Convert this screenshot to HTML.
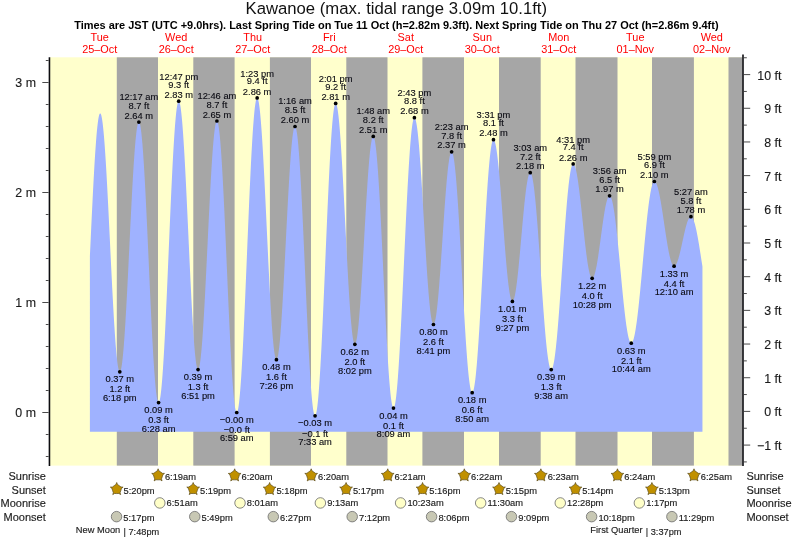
<!DOCTYPE html>
<html><head><meta charset="utf-8"><title>Kawanoe tide times</title>
<style>html,body{margin:0;padding:0;background:#fff;}body{width:793px;height:539px;overflow:hidden;}svg{display:block;font-family:"Liberation Sans", sans-serif;will-change:transform;}text{font-family:"Liberation Sans", sans-serif;}</style>
</head><body>
<svg width="793" height="539" viewBox="0 0 793 539">
<rect width="793" height="539" fill="#ffffff"/>
<rect x="50.00" y="57.30" width="692.00" height="408.30" fill="#ffffcc"/>
<rect x="116.80" y="57.30" width="41.20" height="408.30" fill="#a6a6a6"/>
<rect x="193.30" y="57.30" width="41.30" height="408.30" fill="#a6a6a6"/>
<rect x="269.90" y="57.30" width="41.10" height="408.30" fill="#a6a6a6"/>
<rect x="346.30" y="57.30" width="41.20" height="408.30" fill="#a6a6a6"/>
<rect x="422.40" y="57.30" width="41.60" height="408.30" fill="#a6a6a6"/>
<rect x="499.00" y="57.30" width="41.70" height="408.30" fill="#a6a6a6"/>
<rect x="575.50" y="57.30" width="42.00" height="408.30" fill="#a6a6a6"/>
<rect x="652.00" y="57.30" width="41.90" height="408.30" fill="#a6a6a6"/>
<rect x="728.50" y="57.30" width="14.00" height="408.30" fill="#a6a6a6"/>
<path d="M89.90 431.70 L89.90 256.04 L90.34 246.67 L90.78 237.31 L91.21 228.01 L91.65 218.81 L92.09 209.76 L92.53 200.89 L92.96 192.25 L93.40 183.88 L93.84 175.82 L94.28 168.11 L94.71 160.79 L95.15 153.89 L95.59 147.44 L96.03 141.47 L96.46 136.02 L96.90 131.10 L97.34 126.75 L97.78 122.98 L98.21 119.81 L98.65 117.25 L99.09 115.32 L99.53 114.03 L99.96 113.38 L100.40 113.38 L100.84 114.01 L101.28 115.27 L101.71 117.16 L102.15 119.67 L102.59 122.77 L103.03 126.47 L103.46 130.74 L103.90 135.55 L104.34 140.90 L104.78 146.74 L105.21 153.05 L105.65 159.80 L106.09 166.96 L106.53 174.49 L106.96 182.35 L107.40 190.52 L107.84 198.93 L108.28 207.56 L108.71 216.36 L109.15 225.29 L109.59 234.31 L110.03 243.36 L110.46 252.42 L110.90 261.42 L111.34 270.33 L111.78 279.11 L112.21 287.70 L112.65 296.07 L113.09 304.18 L113.53 311.99 L113.96 319.46 L114.40 326.54 L114.84 333.22 L115.28 339.45 L115.71 345.20 L116.15 350.45 L116.59 355.17 L117.03 359.34 L117.46 362.93 L117.90 365.93 L118.34 368.32 L118.78 370.10 L119.21 371.25 L119.65 371.77 L120.09 371.65 L120.53 370.88 L120.97 369.47 L121.40 367.42 L121.84 364.75 L122.28 361.47 L122.72 357.59 L123.15 353.14 L123.59 348.14 L124.03 342.61 L124.47 336.59 L124.90 330.10 L125.34 323.17 L125.78 315.86 L126.22 308.18 L126.65 300.19 L127.09 291.92 L127.53 283.42 L127.97 274.73 L128.40 265.89 L128.84 256.96 L129.28 247.97 L129.72 238.98 L130.15 230.03 L130.59 221.17 L131.03 212.44 L131.47 203.89 L131.90 195.56 L132.34 187.50 L132.78 179.75 L133.22 172.35 L133.65 165.34 L134.09 158.75 L134.53 152.61 L134.97 146.97 L135.40 141.85 L135.84 137.27 L136.28 133.26 L136.72 129.84 L137.15 127.03 L137.59 124.84 L138.03 123.28 L138.47 122.37 L138.90 122.10 L139.34 122.50 L139.78 123.58 L140.22 125.34 L140.65 127.76 L141.09 130.84 L141.53 134.55 L141.97 138.89 L142.40 143.82 L142.84 149.33 L143.28 155.40 L143.72 161.98 L144.15 169.05 L144.59 176.57 L145.03 184.51 L145.47 192.82 L145.90 201.48 L146.34 210.43 L146.78 219.64 L147.22 229.05 L147.65 238.62 L148.09 248.31 L148.53 258.07 L148.97 267.84 L149.40 277.59 L149.84 287.27 L150.28 296.83 L150.72 306.21 L151.16 315.39 L151.59 324.31 L152.03 332.92 L152.47 341.20 L152.91 349.09 L153.34 356.55 L153.78 363.56 L154.22 370.08 L154.66 376.08 L155.09 381.52 L155.53 386.38 L155.97 390.64 L156.41 394.28 L156.84 397.27 L157.28 399.61 L157.72 401.29 L158.16 402.28 L158.59 402.60 L159.03 402.22 L159.47 401.15 L159.91 399.38 L160.34 396.92 L160.78 393.79 L161.22 389.99 L161.66 385.56 L162.09 380.50 L162.53 374.84 L162.97 368.61 L163.41 361.83 L163.84 354.55 L164.28 346.78 L164.72 338.57 L165.16 329.96 L165.59 320.99 L166.03 311.69 L166.47 302.12 L166.91 292.31 L167.34 282.32 L167.78 272.18 L168.22 261.95 L168.66 251.67 L169.09 241.39 L169.53 231.16 L169.97 221.03 L170.41 211.04 L170.84 201.24 L171.28 191.68 L171.72 182.40 L172.16 173.44 L172.59 164.84 L173.03 156.66 L173.47 148.91 L173.91 141.65 L174.34 134.90 L174.78 128.69 L175.22 123.06 L175.66 118.03 L176.09 113.62 L176.53 109.86 L176.97 106.75 L177.41 104.33 L177.84 102.59 L178.28 101.54 L178.72 101.20 L179.16 101.55 L179.59 102.57 L180.03 104.26 L180.47 106.61 L180.91 109.62 L181.34 113.26 L181.78 117.51 L182.22 122.37 L182.66 127.79 L183.10 133.75 L183.53 140.23 L183.97 147.19 L184.41 154.60 L184.85 162.41 L185.28 170.59 L185.72 179.10 L186.16 187.89 L186.60 196.92 L187.03 206.15 L187.47 215.53 L187.91 225.00 L188.35 234.53 L188.78 244.06 L189.22 253.55 L189.66 262.94 L190.10 272.20 L190.53 281.27 L190.97 290.11 L191.41 298.68 L191.85 306.92 L192.28 314.80 L192.72 322.29 L193.16 329.33 L193.60 335.90 L194.03 341.96 L194.47 347.48 L194.91 352.44 L195.35 356.81 L195.78 360.56 L196.22 363.68 L196.66 366.16 L197.10 367.97 L197.53 369.12 L197.97 369.59 L198.41 369.39 L198.85 368.52 L199.28 367.01 L199.72 364.85 L200.16 362.05 L200.60 358.64 L201.03 354.62 L201.47 350.02 L201.91 344.87 L202.35 339.19 L202.78 333.01 L203.22 326.36 L203.66 319.28 L204.10 311.81 L204.53 303.99 L204.97 295.86 L205.41 287.46 L205.85 278.83 L206.28 270.03 L206.72 261.09 L207.16 252.07 L207.60 243.02 L208.03 233.98 L208.47 224.99 L208.91 216.12 L209.35 207.40 L209.78 198.88 L210.22 190.61 L210.66 182.63 L211.10 174.98 L211.53 167.70 L211.97 160.84 L212.41 154.42 L212.85 148.49 L213.29 143.07 L213.72 138.19 L214.16 133.89 L214.60 130.17 L215.04 127.06 L215.47 124.58 L215.91 122.75 L216.35 121.56 L216.79 121.03 L217.22 121.17 L217.66 122.01 L218.10 123.54 L218.54 125.76 L218.97 128.66 L219.41 132.23 L219.85 136.44 L220.29 141.28 L220.72 146.72 L221.16 152.74 L221.60 159.30 L222.04 166.39 L222.47 173.95 L222.91 181.96 L223.35 190.38 L223.79 199.17 L224.22 208.28 L224.66 217.67 L225.10 227.30 L225.54 237.12 L225.97 247.08 L226.41 257.14 L226.85 267.24 L227.29 277.34 L227.72 287.39 L228.16 297.34 L228.60 307.14 L229.04 316.75 L229.47 326.11 L229.91 335.20 L230.35 343.95 L230.79 352.33 L231.22 360.30 L231.66 367.82 L232.10 374.86 L232.54 381.37 L232.97 387.33 L233.41 392.72 L233.85 397.50 L234.29 401.65 L234.72 405.15 L235.16 407.98 L235.60 410.14 L236.04 411.60 L236.47 412.37 L236.91 412.44 L237.35 411.80 L237.79 410.45 L238.22 408.39 L238.66 405.64 L239.10 402.20 L239.54 398.10 L239.97 393.35 L240.41 387.98 L240.85 382.00 L241.29 375.44 L241.72 368.34 L242.16 360.73 L242.60 352.64 L243.04 344.10 L243.48 335.17 L243.91 325.87 L244.35 316.24 L244.79 306.35 L245.23 296.22 L245.66 285.90 L246.10 275.45 L246.54 264.90 L246.98 254.31 L247.41 243.72 L247.85 233.19 L248.29 222.75 L248.73 212.46 L249.16 202.37 L249.60 192.51 L250.04 182.94 L250.48 173.70 L250.91 164.83 L251.35 156.37 L251.79 148.35 L252.23 140.82 L252.66 133.81 L253.10 127.35 L253.54 121.48 L253.98 116.20 L254.41 111.56 L254.85 107.57 L255.29 104.25 L255.73 101.61 L256.16 99.67 L256.60 98.44 L257.04 97.92 L257.48 98.10 L257.91 98.94 L258.35 100.44 L258.79 102.59 L259.23 105.39 L259.66 108.81 L260.10 112.83 L260.54 117.45 L260.98 122.64 L261.41 128.36 L261.85 134.59 L262.29 141.30 L262.73 148.46 L263.16 156.02 L263.60 163.95 L264.04 172.21 L264.48 180.76 L264.91 189.55 L265.35 198.54 L265.79 207.69 L266.23 216.94 L266.66 226.26 L267.10 235.58 L267.54 244.87 L267.98 254.08 L268.41 263.16 L268.85 272.07 L269.29 280.76 L269.73 289.18 L270.16 297.30 L270.60 305.07 L271.04 312.45 L271.48 319.41 L271.91 325.90 L272.35 331.91 L272.79 337.39 L273.23 342.32 L273.67 346.67 L274.10 350.43 L274.54 353.56 L274.98 356.07 L275.42 357.92 L275.85 359.13 L276.29 359.67 L276.73 359.55 L277.17 358.80 L277.60 357.41 L278.04 355.40 L278.48 352.77 L278.92 349.55 L279.35 345.75 L279.79 341.38 L280.23 336.48 L280.67 331.07 L281.10 325.18 L281.54 318.84 L281.98 312.09 L282.42 304.96 L282.85 297.49 L283.29 289.72 L283.73 281.70 L284.17 273.47 L284.60 265.08 L285.04 256.56 L285.48 247.97 L285.92 239.35 L286.35 230.76 L286.79 222.23 L287.23 213.82 L287.67 205.56 L288.10 197.51 L288.54 189.71 L288.98 182.20 L289.42 175.02 L289.85 168.22 L290.29 161.82 L290.73 155.87 L291.17 150.40 L291.60 145.43 L292.04 140.99 L292.48 137.11 L292.92 133.81 L293.35 131.11 L293.79 129.02 L294.23 127.55 L294.67 126.71 L295.10 126.51 L295.54 126.98 L295.98 128.12 L296.42 129.94 L296.85 132.42 L297.29 135.55 L297.73 139.33 L298.17 143.72 L298.60 148.71 L299.04 154.28 L299.48 160.40 L299.92 167.04 L300.35 174.17 L300.79 181.76 L301.23 189.77 L301.67 198.16 L302.10 206.89 L302.54 215.93 L302.98 225.23 L303.42 234.74 L303.85 244.43 L304.29 254.24 L304.73 264.13 L305.17 274.05 L305.61 283.96 L306.04 293.81 L306.48 303.55 L306.92 313.14 L307.36 322.53 L307.79 331.68 L308.23 340.55 L308.67 349.09 L309.11 357.26 L309.54 365.03 L309.98 372.35 L310.42 379.20 L310.86 385.54 L311.29 391.34 L311.73 396.58 L312.17 401.22 L312.61 405.25 L313.04 408.66 L313.48 411.41 L313.92 413.51 L314.36 414.93 L314.79 415.68 L315.23 415.74 L315.67 415.12 L316.11 413.80 L316.54 411.80 L316.98 409.12 L317.42 405.78 L317.86 401.79 L318.29 397.16 L318.73 391.93 L319.17 386.11 L319.61 379.72 L320.04 372.80 L320.48 365.38 L320.92 357.49 L321.36 349.16 L321.79 340.43 L322.23 331.35 L322.67 321.95 L323.11 312.26 L323.54 302.35 L323.98 292.25 L324.42 282.00 L324.86 271.65 L325.29 261.24 L325.73 250.83 L326.17 240.46 L326.61 230.18 L327.04 220.02 L327.48 210.04 L327.92 200.28 L328.36 190.79 L328.79 181.60 L329.23 172.75 L329.67 164.30 L330.11 156.26 L330.54 148.69 L330.98 141.61 L331.42 135.05 L331.86 129.05 L332.29 123.62 L332.73 118.80 L333.17 114.61 L333.61 111.06 L334.04 108.17 L334.48 105.96 L334.92 104.42 L335.36 103.58 L335.80 103.42 L336.23 103.91 L336.67 105.01 L337.11 106.72 L337.55 109.03 L337.98 111.93 L338.42 115.41 L338.86 119.44 L339.30 124.00 L339.73 129.09 L340.17 134.65 L340.61 140.68 L341.05 147.13 L341.48 153.97 L341.92 161.18 L342.36 168.70 L342.80 176.51 L343.23 184.56 L343.67 192.82 L344.11 201.23 L344.55 209.76 L344.98 218.36 L345.42 226.99 L345.86 235.60 L346.30 244.16 L346.73 252.60 L347.17 260.91 L347.61 269.02 L348.05 276.90 L348.48 284.50 L348.92 291.80 L349.36 298.74 L349.80 305.31 L350.23 311.45 L350.67 317.15 L351.11 322.36 L351.55 327.07 L351.98 331.25 L352.42 334.88 L352.86 337.94 L353.30 340.41 L353.73 342.29 L354.17 343.55 L354.61 344.20 L355.05 344.24 L355.48 343.69 L355.92 342.57 L356.36 340.87 L356.80 338.61 L357.23 335.81 L357.67 332.47 L358.11 328.61 L358.55 324.26 L358.98 319.44 L359.42 314.18 L359.86 308.51 L360.30 302.46 L360.73 296.06 L361.17 289.35 L361.61 282.36 L362.05 275.14 L362.48 267.73 L362.92 260.16 L363.36 252.48 L363.80 244.74 L364.23 236.97 L364.67 229.21 L365.11 221.52 L365.55 213.94 L365.99 206.50 L366.42 199.26 L366.86 192.24 L367.30 185.49 L367.74 179.05 L368.17 172.95 L368.61 167.23 L369.05 161.91 L369.49 157.03 L369.92 152.62 L370.36 148.70 L370.80 145.30 L371.24 142.42 L371.67 140.09 L372.11 138.32 L372.55 137.12 L372.99 136.50 L373.42 136.46 L373.86 137.04 L374.30 138.24 L374.74 140.06 L375.17 142.49 L375.61 145.52 L376.05 149.13 L376.49 153.31 L376.92 158.04 L377.36 163.29 L377.80 169.05 L378.24 175.28 L378.67 181.96 L379.11 189.05 L379.55 196.53 L379.99 204.36 L380.42 212.50 L380.86 220.91 L381.30 229.57 L381.74 238.41 L382.17 247.42 L382.61 256.54 L383.05 265.73 L383.49 274.95 L383.92 284.16 L384.36 293.32 L384.80 302.37 L385.24 311.29 L385.67 320.03 L386.11 328.55 L386.55 336.81 L386.99 344.77 L387.42 352.39 L387.86 359.65 L388.30 366.51 L388.74 372.93 L389.17 378.88 L389.61 384.35 L390.05 389.30 L390.49 393.71 L390.92 397.56 L391.36 400.83 L391.80 403.51 L392.24 405.58 L392.67 407.04 L393.11 407.88 L393.55 408.09 L393.99 407.68 L394.42 406.64 L394.86 404.99 L395.30 402.72 L395.74 399.85 L396.17 396.39 L396.61 392.35 L397.05 387.76 L397.49 382.63 L397.93 376.98 L398.36 370.84 L398.80 364.23 L399.24 357.19 L399.68 349.74 L400.11 341.92 L400.55 333.76 L400.99 325.29 L401.43 316.55 L401.86 307.58 L402.30 298.42 L402.74 289.11 L403.18 279.68 L403.61 270.18 L404.05 260.65 L404.49 251.13 L404.93 241.66 L405.36 232.28 L405.80 223.04 L406.24 213.96 L406.68 205.10 L407.11 196.48 L407.55 188.15 L407.99 180.15 L408.43 172.50 L408.86 165.24 L409.30 158.40 L409.74 152.01 L410.18 146.10 L410.61 140.69 L411.05 135.81 L411.49 131.47 L411.93 127.71 L412.36 124.52 L412.80 121.94 L413.24 119.95 L413.68 118.59 L414.11 117.85 L414.55 117.73 L414.99 118.16 L415.43 119.14 L415.86 120.65 L416.30 122.68 L416.74 125.23 L417.18 128.27 L417.61 131.80 L418.05 135.80 L418.49 140.24 L418.93 145.11 L419.36 150.37 L419.80 156.00 L420.24 161.97 L420.68 168.25 L421.11 174.80 L421.55 181.60 L421.99 188.60 L422.43 195.77 L422.86 203.07 L423.30 210.47 L423.74 217.93 L424.18 225.40 L424.61 232.84 L425.05 240.23 L425.49 247.52 L425.93 254.67 L426.36 261.64 L426.80 268.40 L427.24 274.92 L427.68 281.15 L428.12 287.07 L428.55 292.65 L428.99 297.85 L429.43 302.65 L429.87 307.03 L430.30 310.96 L430.74 314.42 L431.18 317.39 L431.62 319.86 L432.05 321.81 L432.49 323.24 L432.93 324.14 L433.37 324.49 L433.80 324.33 L434.24 323.67 L434.68 322.52 L435.12 320.89 L435.55 318.78 L435.99 316.22 L436.43 313.20 L436.87 309.76 L437.30 305.91 L437.74 301.67 L438.18 297.07 L438.62 292.13 L439.05 286.89 L439.49 281.36 L439.93 275.59 L440.37 269.60 L440.80 263.43 L441.24 257.12 L441.68 250.70 L442.12 244.21 L442.55 237.68 L442.99 231.16 L443.43 224.67 L443.87 218.26 L444.30 211.97 L444.74 205.83 L445.18 199.87 L445.62 194.13 L446.05 188.64 L446.49 183.44 L446.93 178.54 L447.37 173.99 L447.80 169.81 L448.24 166.02 L448.68 162.63 L449.12 159.69 L449.55 157.19 L449.99 155.15 L450.43 153.59 L450.87 152.51 L451.30 151.92 L451.74 151.83 L452.18 152.26 L452.62 153.23 L453.05 154.73 L453.49 156.76 L453.93 159.30 L454.37 162.34 L454.80 165.88 L455.24 169.90 L455.68 174.37 L456.12 179.27 L456.55 184.59 L456.99 190.31 L457.43 196.39 L457.87 202.81 L458.31 209.54 L458.74 216.55 L459.18 223.80 L459.62 231.28 L460.06 238.94 L460.49 246.74 L460.93 254.66 L461.37 262.66 L461.81 270.70 L462.24 278.75 L462.68 286.77 L463.12 294.73 L463.56 302.58 L463.99 310.30 L464.43 317.85 L464.87 325.19 L465.31 332.30 L465.74 339.14 L466.18 345.68 L466.62 351.90 L467.06 357.76 L467.49 363.23 L467.93 368.30 L468.37 372.94 L468.81 377.13 L469.24 380.85 L469.68 384.09 L470.12 386.83 L470.56 389.05 L470.99 390.76 L471.43 391.93 L471.87 392.57 L472.31 392.67 L472.74 392.25 L473.18 391.30 L473.62 389.83 L474.06 387.84 L474.49 385.35 L474.93 382.36 L475.37 378.89 L475.81 374.95 L476.24 370.56 L476.68 365.74 L477.12 360.50 L477.56 354.86 L477.99 348.86 L478.43 342.52 L478.87 335.85 L479.31 328.90 L479.74 321.69 L480.18 314.24 L480.62 306.60 L481.06 298.79 L481.49 290.84 L481.93 282.79 L482.37 274.67 L482.81 266.51 L483.24 258.36 L483.68 250.23 L484.12 242.18 L484.56 234.22 L484.99 226.40 L485.43 218.74 L485.87 211.28 L486.31 204.05 L486.74 197.07 L487.18 190.39 L487.62 184.01 L488.06 177.99 L488.50 172.32 L488.93 167.05 L489.37 162.19 L489.81 157.77 L490.25 153.79 L490.68 150.29 L491.12 147.26 L491.56 144.73 L492.00 142.71 L492.43 141.20 L492.87 140.21 L493.31 139.74 L493.75 139.78 L494.18 140.25 L494.62 141.15 L495.06 142.47 L495.50 144.20 L495.93 146.33 L496.37 148.86 L496.81 151.76 L497.25 155.03 L497.68 158.64 L498.12 162.58 L498.56 166.82 L499.00 171.35 L499.43 176.14 L499.87 181.16 L500.31 186.39 L500.75 191.80 L501.18 197.36 L501.62 203.05 L502.06 208.83 L502.50 214.66 L502.93 220.53 L503.37 226.40 L503.81 232.24 L504.25 238.02 L504.68 243.71 L505.12 249.27 L505.56 254.68 L506.00 259.91 L506.43 264.94 L506.87 269.73 L507.31 274.25 L507.75 278.50 L508.18 282.44 L508.62 286.05 L509.06 289.32 L509.50 292.23 L509.93 294.75 L510.37 296.89 L510.81 298.62 L511.25 299.94 L511.68 300.84 L512.12 301.32 L512.56 301.37 L513.00 301.04 L513.43 300.32 L513.87 299.23 L514.31 297.77 L514.75 295.95 L515.18 293.79 L515.62 291.28 L516.06 288.46 L516.50 285.33 L516.93 281.91 L517.37 278.23 L517.81 274.31 L518.25 270.16 L518.69 265.82 L519.12 261.31 L519.56 256.65 L520.00 251.88 L520.44 247.02 L520.87 242.10 L521.31 237.15 L521.75 232.20 L522.19 227.28 L522.62 222.41 L523.06 217.64 L523.50 212.98 L523.94 208.46 L524.37 204.11 L524.81 199.95 L525.25 196.02 L525.69 192.33 L526.12 188.90 L526.56 185.76 L527.00 182.92 L527.44 180.41 L527.87 178.23 L528.31 176.39 L528.75 174.92 L529.19 173.82 L529.62 173.09 L530.06 172.73 L530.50 172.77 L530.94 173.23 L531.37 174.10 L531.81 175.39 L532.25 177.09 L532.69 179.20 L533.12 181.70 L533.56 184.58 L534.00 187.83 L534.44 191.44 L534.87 195.40 L535.31 199.68 L535.75 204.26 L536.19 209.13 L536.62 214.27 L537.06 219.65 L537.50 225.25 L537.94 231.05 L538.37 237.02 L538.81 243.14 L539.25 249.37 L539.69 255.70 L540.12 262.10 L540.56 268.54 L541.00 274.98 L541.44 281.41 L541.87 287.80 L542.31 294.11 L542.75 300.33 L543.19 306.42 L543.62 312.36 L544.06 318.12 L544.50 323.69 L544.94 329.02 L545.37 334.11 L545.81 338.93 L546.25 343.46 L546.69 347.67 L547.12 351.56 L547.56 355.11 L548.00 358.29 L548.44 361.10 L548.87 363.53 L549.31 365.56 L549.75 367.18 L550.19 368.40 L550.63 369.19 L551.06 369.57 L551.50 369.52 L551.94 369.08 L552.38 368.23 L552.81 366.98 L553.25 365.34 L553.69 363.31 L554.13 360.91 L554.56 358.13 L555.00 355.00 L555.44 351.52 L555.88 347.71 L556.31 343.58 L556.75 339.15 L557.19 334.43 L557.63 329.45 L558.06 324.23 L558.50 318.77 L558.94 313.12 L559.38 307.28 L559.81 301.28 L560.25 295.15 L560.69 288.91 L561.13 282.58 L561.56 276.18 L562.00 269.75 L562.44 263.31 L562.88 256.89 L563.31 250.50 L563.75 244.17 L564.19 237.93 L564.63 231.81 L565.06 225.82 L565.50 220.00 L565.94 214.35 L566.38 208.92 L566.81 203.71 L567.25 198.74 L567.69 194.05 L568.13 189.63 L568.56 185.53 L569.00 181.74 L569.44 178.28 L569.88 175.17 L570.31 172.42 L570.75 170.04 L571.19 168.04 L571.63 166.42 L572.06 165.20 L572.50 164.38 L572.94 163.96 L573.38 163.93 L573.81 164.22 L574.25 164.80 L574.69 165.69 L575.13 166.86 L575.56 168.31 L576.00 170.05 L576.44 172.05 L576.88 174.31 L577.31 176.81 L577.75 179.55 L578.19 182.51 L578.63 185.66 L579.06 189.01 L579.50 192.52 L579.94 196.18 L580.38 199.98 L580.82 203.88 L581.25 207.87 L581.69 211.94 L582.13 216.05 L582.57 220.19 L583.00 224.33 L583.44 228.46 L583.88 232.55 L584.32 236.57 L584.75 240.52 L585.19 244.36 L585.63 248.09 L586.07 251.67 L586.50 255.09 L586.94 258.33 L587.38 261.38 L587.82 264.21 L588.25 266.82 L588.69 269.19 L589.13 271.30 L589.57 273.16 L590.00 274.74 L590.44 276.03 L590.88 277.04 L591.32 277.76 L591.75 278.18 L592.19 278.30 L592.63 278.14 L593.07 277.73 L593.50 277.07 L593.94 276.16 L594.38 275.00 L594.82 273.61 L595.25 271.99 L595.69 270.16 L596.13 268.12 L596.57 265.88 L597.00 263.47 L597.44 260.89 L597.88 258.16 L598.32 255.30 L598.75 252.33 L599.19 249.27 L599.63 246.12 L600.07 242.93 L600.50 239.69 L600.94 236.44 L601.38 233.19 L601.82 229.97 L602.25 226.79 L602.69 223.67 L603.13 220.64 L603.57 217.71 L604.00 214.90 L604.44 212.22 L604.88 209.71 L605.32 207.36 L605.75 205.19 L606.19 203.23 L606.63 201.47 L607.07 199.94 L607.50 198.64 L607.94 197.57 L608.38 196.75 L608.82 196.18 L609.25 195.87 L609.69 195.81 L610.13 196.04 L610.57 196.56 L611.01 197.38 L611.44 198.49 L611.88 199.88 L612.32 201.55 L612.76 203.50 L613.19 205.71 L613.63 208.17 L614.07 210.89 L614.51 213.84 L614.94 217.01 L615.38 220.39 L615.82 223.97 L616.26 227.74 L616.69 231.67 L617.13 235.75 L617.57 239.97 L618.01 244.31 L618.44 248.75 L618.88 253.27 L619.32 257.86 L619.76 262.49 L620.19 267.16 L620.63 271.83 L621.07 276.49 L621.51 281.13 L621.94 285.72 L622.38 290.24 L622.82 294.68 L623.26 299.02 L623.69 303.24 L624.13 307.32 L624.57 311.25 L625.01 315.02 L625.44 318.60 L625.88 321.98 L626.32 325.16 L626.76 328.11 L627.19 330.82 L627.63 333.29 L628.07 335.50 L628.51 337.44 L628.94 339.12 L629.38 340.51 L629.82 341.62 L630.26 342.43 L630.69 342.96 L631.13 343.19 L631.57 343.12 L632.01 342.77 L632.44 342.14 L632.88 341.22 L633.32 340.03 L633.76 338.56 L634.19 336.82 L634.63 334.82 L635.07 332.56 L635.51 330.05 L635.94 327.30 L636.38 324.33 L636.82 321.13 L637.26 317.73 L637.69 314.13 L638.13 310.35 L638.57 306.40 L639.01 302.29 L639.44 298.04 L639.88 293.66 L640.32 289.18 L640.76 284.60 L641.20 279.94 L641.63 275.22 L642.07 270.45 L642.51 265.65 L642.95 260.85 L643.38 256.05 L643.82 251.27 L644.26 246.52 L644.70 241.84 L645.13 237.23 L645.57 232.71 L646.01 228.29 L646.45 223.99 L646.88 219.83 L647.32 215.81 L647.76 211.97 L648.20 208.30 L648.63 204.82 L649.07 201.55 L649.51 198.49 L649.95 195.65 L650.38 193.05 L650.82 190.70 L651.26 188.60 L651.70 186.76 L652.13 185.19 L652.57 183.89 L653.01 182.87 L653.45 182.13 L653.88 181.67 L654.32 181.50 L654.76 181.58 L655.20 181.87 L655.63 182.36 L656.07 183.06 L656.51 183.95 L656.95 185.03 L657.38 186.31 L657.82 187.76 L658.26 189.40 L658.70 191.20 L659.13 193.15 L659.57 195.26 L660.01 197.51 L660.45 199.88 L660.88 202.37 L661.32 204.97 L661.76 207.66 L662.20 210.42 L662.63 213.25 L663.07 216.14 L663.51 219.06 L663.95 222.00 L664.38 224.95 L664.82 227.90 L665.26 230.83 L665.70 233.72 L666.13 236.57 L666.57 239.35 L667.01 242.06 L667.45 244.68 L667.88 247.20 L668.32 249.60 L668.76 251.88 L669.20 254.02 L669.63 256.02 L670.07 257.86 L670.51 259.54 L670.95 261.04 L671.38 262.36 L671.82 263.49 L672.26 264.44 L672.70 265.18 L673.14 265.72 L673.57 266.06 L674.01 266.20 L674.45 266.14 L674.89 265.92 L675.32 265.54 L675.76 264.99 L676.20 264.29 L676.64 263.44 L677.07 262.44 L677.51 261.30 L677.95 260.03 L678.39 258.63 L678.82 257.12 L679.26 255.51 L679.70 253.80 L680.14 252.01 L680.57 250.15 L681.01 248.23 L681.45 246.27 L681.89 244.27 L682.32 242.26 L682.76 240.24 L683.20 238.23 L683.64 236.24 L684.07 234.29 L684.51 232.38 L684.95 230.53 L685.39 228.76 L685.82 227.07 L686.26 225.47 L686.70 223.99 L687.14 222.61 L687.57 221.37 L688.01 220.26 L688.45 219.28 L688.89 218.46 L689.32 217.79 L689.76 217.28 L690.20 216.92 L690.64 216.73 L691.07 216.71 L691.51 216.87 L691.95 217.21 L692.39 217.74 L692.82 218.45 L693.26 219.33 L693.70 220.39 L694.14 221.63 L694.57 223.02 L695.01 224.57 L695.45 226.28 L695.89 228.13 L696.32 230.11 L696.76 232.23 L697.20 234.46 L697.64 236.80 L698.07 239.24 L698.51 241.77 L698.95 244.37 L699.39 247.05 L699.82 249.77 L700.26 252.54 L700.70 255.34 L701.14 258.16 L701.57 260.98 L702.01 263.80 L702.45 266.60 L702.45 431.70 Z" fill="#9fb2ff"/>
<g stroke="#0c0c10" stroke-width="1.6" fill="none">
<line x1="49.45" y1="57.30" x2="49.45" y2="465.90"/>
<line x1="743.0" y1="54.5" x2="743.0" y2="465.90"/>
</g>
<g stroke="#2a2a2a" stroke-width="0.85" fill="none">
<line x1="45.80" y1="456.50" x2="48.6" y2="456.50"/>
<line x1="45.80" y1="434.50" x2="48.6" y2="434.50"/>
<line x1="42.30" y1="412.50" x2="48.6" y2="412.50"/>
<line x1="45.80" y1="390.50" x2="48.6" y2="390.50"/>
<line x1="45.80" y1="368.50" x2="48.6" y2="368.50"/>
<line x1="45.80" y1="346.50" x2="48.6" y2="346.50"/>
<line x1="45.80" y1="324.50" x2="48.6" y2="324.50"/>
<line x1="42.30" y1="302.50" x2="48.6" y2="302.50"/>
<line x1="45.80" y1="280.50" x2="48.6" y2="280.50"/>
<line x1="45.80" y1="258.50" x2="48.6" y2="258.50"/>
<line x1="45.80" y1="236.50" x2="48.6" y2="236.50"/>
<line x1="45.80" y1="214.50" x2="48.6" y2="214.50"/>
<line x1="42.30" y1="192.50" x2="48.6" y2="192.50"/>
<line x1="45.80" y1="170.50" x2="48.6" y2="170.50"/>
<line x1="45.80" y1="148.50" x2="48.6" y2="148.50"/>
<line x1="45.80" y1="126.50" x2="48.6" y2="126.50"/>
<line x1="45.80" y1="104.50" x2="48.6" y2="104.50"/>
<line x1="42.30" y1="82.50" x2="48.6" y2="82.50"/>
<line x1="45.80" y1="60.50" x2="48.6" y2="60.50"/>
<line x1="743.8" y1="461.92" x2="746.80" y2="461.92"/>
<line x1="743.8" y1="445.08" x2="750.20" y2="445.08"/>
<line x1="743.8" y1="428.24" x2="746.80" y2="428.24"/>
<line x1="743.8" y1="411.40" x2="750.20" y2="411.40"/>
<line x1="743.8" y1="394.56" x2="746.80" y2="394.56"/>
<line x1="743.8" y1="377.72" x2="750.20" y2="377.72"/>
<line x1="743.8" y1="360.88" x2="746.80" y2="360.88"/>
<line x1="743.8" y1="344.04" x2="750.20" y2="344.04"/>
<line x1="743.8" y1="327.20" x2="746.80" y2="327.20"/>
<line x1="743.8" y1="310.36" x2="750.20" y2="310.36"/>
<line x1="743.8" y1="293.52" x2="746.80" y2="293.52"/>
<line x1="743.8" y1="276.68" x2="750.20" y2="276.68"/>
<line x1="743.8" y1="259.84" x2="746.80" y2="259.84"/>
<line x1="743.8" y1="243.00" x2="750.20" y2="243.00"/>
<line x1="743.8" y1="226.16" x2="746.80" y2="226.16"/>
<line x1="743.8" y1="209.32" x2="750.20" y2="209.32"/>
<line x1="743.8" y1="192.48" x2="746.80" y2="192.48"/>
<line x1="743.8" y1="175.64" x2="750.20" y2="175.64"/>
<line x1="743.8" y1="158.80" x2="746.80" y2="158.80"/>
<line x1="743.8" y1="141.96" x2="750.20" y2="141.96"/>
<line x1="743.8" y1="125.12" x2="746.80" y2="125.12"/>
<line x1="743.8" y1="108.28" x2="750.20" y2="108.28"/>
<line x1="743.8" y1="91.44" x2="746.80" y2="91.44"/>
<line x1="743.8" y1="74.60" x2="750.20" y2="74.60"/>
<line x1="743.8" y1="57.76" x2="746.80" y2="57.76"/>
</g>
<g font-size="12.4" fill="#1a1a1a" stroke="#1a1a1a" stroke-width="0.12">
<text x="36.0" y="417.10" text-anchor="end">0 m</text>
<text x="36.0" y="307.10" text-anchor="end">1 m</text>
<text x="36.0" y="197.10" text-anchor="end">2 m</text>
<text x="36.0" y="87.10" text-anchor="end">3 m</text>
<text x="781.4" y="450.08" text-anchor="end">−1 ft</text>
<text x="781.4" y="416.40" text-anchor="end">0 ft</text>
<text x="781.4" y="382.72" text-anchor="end">1 ft</text>
<text x="781.4" y="349.04" text-anchor="end">2 ft</text>
<text x="781.4" y="315.36" text-anchor="end">3 ft</text>
<text x="781.4" y="281.68" text-anchor="end">4 ft</text>
<text x="781.4" y="248.00" text-anchor="end">5 ft</text>
<text x="781.4" y="214.32" text-anchor="end">6 ft</text>
<text x="781.4" y="180.64" text-anchor="end">7 ft</text>
<text x="781.4" y="146.96" text-anchor="end">8 ft</text>
<text x="781.4" y="113.28" text-anchor="end">9 ft</text>
<text x="781.4" y="79.60" text-anchor="end">10 ft</text>
</g>
<text x="396.3" y="14.0" font-size="16.7" text-anchor="middle" fill="#111111">Kawanoe (max. tidal range 3.09m 10.1ft)</text>
<text x="396.4" y="28.5" font-size="10.97" font-weight="bold" text-anchor="middle" fill="#000000">Times are JST (UTC +9.0hrs). Last Spring Tide on Tue 11 Oct (h=2.82m 9.3ft). Next Spring Tide on Thu 27 Oct (h=2.86m 9.4ft)</text>
<g font-size="10.9" fill="#ff0000" text-anchor="middle">
<text x="99.71" y="41.4">Tue</text>
<text x="99.71" y="52.8">25–Oct</text>
<text x="176.22" y="41.4">Wed</text>
<text x="176.22" y="52.8">26–Oct</text>
<text x="252.73" y="41.4">Thu</text>
<text x="252.73" y="52.8">27–Oct</text>
<text x="329.24" y="41.4">Fri</text>
<text x="329.24" y="52.8">28–Oct</text>
<text x="405.75" y="41.4">Sat</text>
<text x="405.75" y="52.8">29–Oct</text>
<text x="482.27" y="41.4">Sun</text>
<text x="482.27" y="52.8">30–Oct</text>
<text x="558.78" y="41.4">Mon</text>
<text x="558.78" y="52.8">31–Oct</text>
<text x="635.29" y="41.4">Tue</text>
<text x="635.29" y="52.8">01–Nov</text>
<text x="711.80" y="41.4">Wed</text>
<text x="711.80" y="52.8">02–Nov</text>
</g>
<g font-size="9.33" fill="#0a0a12" stroke="#0a0a12" stroke-width="0.12" text-anchor="middle">
<circle cx="119.79" cy="371.80" r="1.85" fill="#000" stroke="none"/>
<text x="119.79" y="401.20">6:18 pm</text>
<text x="119.79" y="392.40">1.2 ft</text>
<text x="119.79" y="382.00">0.37 m</text>
<circle cx="138.87" cy="122.10" r="1.85" fill="#000" stroke="none"/>
<text x="138.87" y="99.90">12:17 am</text>
<text x="138.87" y="109.00">8.7 ft</text>
<text x="138.87" y="118.60">2.64 m</text>
<circle cx="158.58" cy="402.60" r="1.85" fill="#000" stroke="none"/>
<text x="158.58" y="431.50">6:28 am</text>
<text x="158.58" y="423.30">0.3 ft</text>
<text x="158.58" y="413.10">0.09 m</text>
<circle cx="178.72" cy="101.20" r="1.85" fill="#000" stroke="none"/>
<text x="178.72" y="79.80">12:47 pm</text>
<text x="178.72" y="87.60">9.3 ft</text>
<text x="178.72" y="97.80">2.83 m</text>
<circle cx="198.06" cy="369.60" r="1.85" fill="#000" stroke="none"/>
<text x="198.06" y="399.00">6:51 pm</text>
<text x="198.06" y="390.20">1.3 ft</text>
<text x="198.06" y="379.80">0.39 m</text>
<circle cx="216.92" cy="121.00" r="1.85" fill="#000" stroke="none"/>
<text x="216.92" y="98.80">12:46 am</text>
<text x="216.92" y="107.90">8.7 ft</text>
<text x="216.92" y="117.50">2.65 m</text>
<circle cx="236.74" cy="412.50" r="1.85" fill="#000" stroke="none"/>
<text x="236.74" y="441.40">6:59 am</text>
<text x="236.74" y="433.20">−0.0 ft</text>
<text x="236.74" y="423.00">−0.00 m</text>
<circle cx="257.14" cy="97.90" r="1.85" fill="#000" stroke="none"/>
<text x="257.14" y="76.50">1:23 pm</text>
<text x="257.14" y="84.30">9.4 ft</text>
<text x="257.14" y="94.50">2.86 m</text>
<circle cx="276.43" cy="359.70" r="1.85" fill="#000" stroke="none"/>
<text x="276.43" y="389.10">7:26 pm</text>
<text x="276.43" y="380.30">1.6 ft</text>
<text x="276.43" y="369.90">0.48 m</text>
<circle cx="295.02" cy="126.50" r="1.85" fill="#000" stroke="none"/>
<text x="295.02" y="104.30">1:16 am</text>
<text x="295.02" y="113.40">8.5 ft</text>
<text x="295.02" y="123.00">2.60 m</text>
<circle cx="315.06" cy="415.80" r="1.85" fill="#000" stroke="none"/>
<text x="315.06" y="444.70">7:33 am</text>
<text x="315.06" y="436.50">−0.1 ft</text>
<text x="315.06" y="426.30">−0.03 m</text>
<circle cx="335.67" cy="103.40" r="1.85" fill="#000" stroke="none"/>
<text x="335.67" y="82.00">2:01 pm</text>
<text x="335.67" y="89.80">9.2 ft</text>
<text x="335.67" y="100.00">2.81 m</text>
<circle cx="354.85" cy="344.30" r="1.85" fill="#000" stroke="none"/>
<text x="354.85" y="373.70">8:02 pm</text>
<text x="354.85" y="364.90">2.0 ft</text>
<text x="354.85" y="354.50">0.62 m</text>
<circle cx="373.24" cy="136.40" r="1.85" fill="#000" stroke="none"/>
<text x="373.24" y="114.20">1:48 am</text>
<text x="373.24" y="123.30">8.2 ft</text>
<text x="373.24" y="132.90">2.51 m</text>
<circle cx="393.48" cy="408.10" r="1.85" fill="#000" stroke="none"/>
<text x="393.48" y="437.00">8:09 am</text>
<text x="393.48" y="428.80">0.1 ft</text>
<text x="393.48" y="418.60">0.04 m</text>
<circle cx="414.41" cy="117.70" r="1.85" fill="#000" stroke="none"/>
<text x="414.41" y="96.30">2:43 pm</text>
<text x="414.41" y="104.10">8.8 ft</text>
<text x="414.41" y="114.30">2.68 m</text>
<circle cx="433.44" cy="324.50" r="1.85" fill="#000" stroke="none"/>
<text x="433.44" y="353.90">8:41 pm</text>
<text x="433.44" y="345.10">2.6 ft</text>
<text x="433.44" y="334.70">0.80 m</text>
<circle cx="451.61" cy="151.80" r="1.85" fill="#000" stroke="none"/>
<text x="451.61" y="129.60">2:23 am</text>
<text x="451.61" y="138.70">7.8 ft</text>
<text x="451.61" y="148.30">2.37 m</text>
<circle cx="472.17" cy="392.70" r="1.85" fill="#000" stroke="none"/>
<text x="472.17" y="421.60">8:50 am</text>
<text x="472.17" y="413.40">0.6 ft</text>
<text x="472.17" y="403.20">0.18 m</text>
<circle cx="493.48" cy="139.70" r="1.85" fill="#000" stroke="none"/>
<text x="493.48" y="118.30">3:31 pm</text>
<text x="493.48" y="126.10">8.1 ft</text>
<text x="493.48" y="136.30">2.48 m</text>
<circle cx="512.39" cy="301.40" r="1.85" fill="#000" stroke="none"/>
<text x="512.39" y="330.80">9:27 pm</text>
<text x="512.39" y="322.00">3.3 ft</text>
<text x="512.39" y="311.60">1.01 m</text>
<circle cx="530.25" cy="172.70" r="1.85" fill="#000" stroke="none"/>
<text x="530.25" y="150.50">3:03 am</text>
<text x="530.25" y="159.60">7.2 ft</text>
<text x="530.25" y="169.20">2.18 m</text>
<circle cx="551.23" cy="369.60" r="1.85" fill="#000" stroke="none"/>
<text x="551.23" y="398.50">9:38 am</text>
<text x="551.23" y="390.30">1.3 ft</text>
<text x="551.23" y="380.10">0.39 m</text>
<circle cx="573.18" cy="163.90" r="1.85" fill="#000" stroke="none"/>
<text x="573.18" y="142.50">4:31 pm</text>
<text x="573.18" y="150.30">7.4 ft</text>
<text x="573.18" y="160.50">2.26 m</text>
<circle cx="592.15" cy="278.30" r="1.85" fill="#000" stroke="none"/>
<text x="592.15" y="307.70">10:28 pm</text>
<text x="592.15" y="298.90">4.0 ft</text>
<text x="592.15" y="288.50">1.22 m</text>
<circle cx="609.57" cy="195.80" r="1.85" fill="#000" stroke="none"/>
<text x="609.57" y="173.60">3:56 am</text>
<text x="609.57" y="182.70">6.5 ft</text>
<text x="609.57" y="192.30">1.97 m</text>
<circle cx="631.25" cy="343.20" r="1.85" fill="#000" stroke="none"/>
<text x="631.25" y="372.10">10:44 am</text>
<text x="631.25" y="363.90">2.1 ft</text>
<text x="631.25" y="353.70">0.63 m</text>
<circle cx="654.36" cy="181.50" r="1.85" fill="#000" stroke="none"/>
<text x="654.36" y="160.10">5:59 pm</text>
<text x="654.36" y="167.90">6.9 ft</text>
<text x="654.36" y="178.10">2.10 m</text>
<circle cx="674.08" cy="266.20" r="1.85" fill="#000" stroke="none"/>
<text x="674.08" y="295.10">12:10 am</text>
<text x="674.08" y="286.90">4.4 ft</text>
<text x="674.08" y="276.70">1.33 m</text>
<circle cx="690.92" cy="216.70" r="1.85" fill="#000" stroke="none"/>
<text x="690.92" y="194.50">5:27 am</text>
<text x="690.92" y="203.60">5.8 ft</text>
<text x="690.92" y="213.20">1.78 m</text>
</g>
<g font-size="11.0" fill="#1c1c1c" stroke="#1c1c1c" stroke-width="0.15">
<text x="45.8" y="480.10" text-anchor="end">Sunrise</text>
<text x="746.4" y="480.10">Sunrise</text>
<text x="45.8" y="493.80" text-anchor="end">Sunset</text>
<text x="746.4" y="493.80">Sunset</text>
<text x="45.8" y="507.10" text-anchor="end">Moonrise</text>
<text x="746.4" y="507.10">Moonrise</text>
<text x="45.8" y="520.90" text-anchor="end">Moonset</text>
<text x="746.4" y="520.90">Moonset</text>
</g>
<g font-size="9.33" fill="#1c1c1c" stroke="#1c1c1c" stroke-width="0.15">
<polygon points="157.35,470.76 158.10,468.80 158.85,470.76 160.66,471.98 162.38,473.32 164.47,473.43 162.84,474.75 162.24,476.84 161.49,478.89 162.04,480.92 160.28,479.78 158.10,479.85 155.92,479.78 154.16,480.92 154.71,478.89 153.96,476.84 153.36,474.75 151.73,473.43 153.82,473.32 155.54,471.98" fill="#c09000" stroke="#5a4a18" stroke-width="0.7" stroke-linejoin="miter"/>
<text x="164.90" y="479.90">6:19am</text>
<polygon points="233.91,470.76 234.66,468.80 235.42,470.76 237.22,471.98 238.94,473.32 241.04,473.43 239.41,474.75 238.80,476.84 238.06,478.89 238.60,480.92 236.84,479.78 234.66,479.85 232.49,479.78 230.73,480.92 231.27,478.89 230.53,476.84 229.92,474.75 228.29,473.43 230.39,473.32 232.11,471.98" fill="#c09000" stroke="#5a4a18" stroke-width="0.7" stroke-linejoin="miter"/>
<text x="241.46" y="479.90">6:20am</text>
<polygon points="310.43,470.76 311.18,468.80 311.93,470.76 313.73,471.98 315.45,473.32 317.55,473.43 315.92,474.75 315.31,476.84 314.57,478.89 315.11,480.92 313.36,479.78 311.18,479.85 309.00,479.78 307.24,480.92 307.78,478.89 307.04,476.84 306.44,474.75 304.80,473.43 306.90,473.32 308.62,471.98" fill="#c09000" stroke="#5a4a18" stroke-width="0.7" stroke-linejoin="miter"/>
<text x="317.98" y="479.90">6:20am</text>
<polygon points="386.99,470.76 387.74,468.80 388.49,470.76 390.30,471.98 392.02,473.32 394.11,473.43 392.48,474.75 391.88,476.84 391.14,478.89 391.68,480.92 389.92,479.78 387.74,479.85 385.56,479.78 383.80,480.92 384.35,478.89 383.60,476.84 383.00,474.75 381.37,473.43 383.46,473.32 385.18,471.98" fill="#c09000" stroke="#5a4a18" stroke-width="0.7" stroke-linejoin="miter"/>
<text x="394.54" y="479.90">6:21am</text>
<polygon points="463.56,470.76 464.31,468.80 465.06,470.76 466.86,471.98 468.58,473.32 470.68,473.43 469.05,474.75 468.44,476.84 467.70,478.89 468.25,480.92 466.49,479.78 464.31,479.85 462.13,479.78 460.37,480.92 460.91,478.89 460.17,476.84 459.57,474.75 457.93,473.43 460.03,473.32 461.75,471.98" fill="#c09000" stroke="#5a4a18" stroke-width="0.7" stroke-linejoin="miter"/>
<text x="471.11" y="479.90">6:22am</text>
<polygon points="540.12,470.76 540.87,468.80 541.62,470.76 543.43,471.98 545.15,473.32 547.24,473.43 545.61,474.75 545.01,476.84 544.27,478.89 544.81,480.92 543.05,479.78 540.87,479.85 538.69,479.78 536.93,480.92 537.48,478.89 536.73,476.84 536.13,474.75 534.50,473.43 536.60,473.32 538.32,471.98" fill="#c09000" stroke="#5a4a18" stroke-width="0.7" stroke-linejoin="miter"/>
<text x="547.67" y="479.90">6:23am</text>
<polygon points="616.69,470.76 617.44,468.80 618.19,470.76 619.99,471.98 621.71,473.32 623.81,473.43 622.18,474.75 621.57,476.84 620.83,478.89 621.38,480.92 619.62,479.78 617.44,479.85 615.26,479.78 613.50,480.92 614.04,478.89 613.30,476.84 612.70,474.75 611.07,473.43 613.16,473.32 614.88,471.98" fill="#c09000" stroke="#5a4a18" stroke-width="0.7" stroke-linejoin="miter"/>
<text x="624.24" y="479.90">6:24am</text>
<polygon points="693.25,470.76 694.00,468.80 694.75,470.76 696.56,471.98 698.28,473.32 700.37,473.43 698.74,474.75 698.14,476.84 697.40,478.89 697.94,480.92 696.18,479.78 694.00,479.85 691.82,479.78 690.06,480.92 690.61,478.89 689.87,476.84 689.26,474.75 687.63,473.43 689.73,473.32 691.45,471.98" fill="#c09000" stroke="#5a4a18" stroke-width="0.7" stroke-linejoin="miter"/>
<text x="700.80" y="479.90">6:25am</text>
<polygon points="115.96,484.46 116.71,482.50 117.46,484.46 119.27,485.68 120.99,487.02 123.08,487.13 121.45,488.45 120.85,490.54 120.10,492.59 120.65,494.62 118.89,493.48 116.71,493.55 114.53,493.48 112.77,494.62 113.31,492.59 112.57,490.54 111.97,488.45 110.34,487.13 112.43,487.02 114.15,485.68" fill="#c09000" stroke="#5a4a18" stroke-width="0.7" stroke-linejoin="miter"/>
<text x="123.51" y="493.80">5:20pm</text>
<polygon points="192.42,484.46 193.17,482.50 193.92,484.46 195.72,485.68 197.44,487.02 199.54,487.13 197.91,488.45 197.30,490.54 196.56,492.59 197.11,494.62 195.35,493.48 193.17,493.55 190.99,493.48 189.23,494.62 189.77,492.59 189.03,490.54 188.43,488.45 186.80,487.13 188.89,487.02 190.61,485.68" fill="#c09000" stroke="#5a4a18" stroke-width="0.7" stroke-linejoin="miter"/>
<text x="199.97" y="493.80">5:19pm</text>
<polygon points="268.88,484.46 269.63,482.50 270.38,484.46 272.18,485.68 273.90,487.02 276.00,487.13 274.37,488.45 273.76,490.54 273.02,492.59 273.56,494.62 271.81,493.48 269.63,493.55 267.45,493.48 265.69,494.62 266.23,492.59 265.49,490.54 264.89,488.45 263.25,487.13 265.35,487.02 267.07,485.68" fill="#c09000" stroke="#5a4a18" stroke-width="0.7" stroke-linejoin="miter"/>
<text x="276.43" y="493.80">5:18pm</text>
<polygon points="345.33,484.46 346.09,482.50 346.84,484.46 348.64,485.68 350.36,487.02 352.46,487.13 350.83,488.45 350.22,490.54 349.48,492.59 350.02,494.62 348.26,493.48 346.09,493.55 343.91,493.48 342.15,494.62 342.69,492.59 341.95,490.54 341.34,488.45 339.71,487.13 341.81,487.02 343.53,485.68" fill="#c09000" stroke="#5a4a18" stroke-width="0.7" stroke-linejoin="miter"/>
<text x="352.89" y="493.80">5:17pm</text>
<polygon points="421.79,484.46 422.54,482.50 423.30,484.46 425.10,485.68 426.82,487.02 428.92,487.13 427.29,488.45 426.68,490.54 425.94,492.59 426.48,494.62 424.72,493.48 422.54,493.55 420.36,493.48 418.61,494.62 419.15,492.59 418.41,490.54 417.80,488.45 416.17,487.13 418.27,487.02 419.99,485.68" fill="#c09000" stroke="#5a4a18" stroke-width="0.7" stroke-linejoin="miter"/>
<text x="429.34" y="493.80">5:16pm</text>
<polygon points="498.25,484.46 499.00,482.50 499.75,484.46 501.56,485.68 503.28,487.02 505.38,487.13 503.74,488.45 503.14,490.54 502.40,492.59 502.94,494.62 501.18,493.48 499.00,493.55 496.82,493.48 495.06,494.62 495.61,492.59 494.87,490.54 494.26,488.45 492.63,487.13 494.73,487.02 496.45,485.68" fill="#c09000" stroke="#5a4a18" stroke-width="0.7" stroke-linejoin="miter"/>
<text x="505.80" y="493.80">5:15pm</text>
<polygon points="574.71,484.46 575.46,482.50 576.21,484.46 578.02,485.68 579.74,487.02 581.83,487.13 580.20,488.45 579.60,490.54 578.86,492.59 579.40,494.62 577.64,493.48 575.46,493.55 573.28,493.48 571.52,494.62 572.07,492.59 571.32,490.54 570.72,488.45 569.09,487.13 571.19,487.02 572.91,485.68" fill="#c09000" stroke="#5a4a18" stroke-width="0.7" stroke-linejoin="miter"/>
<text x="582.26" y="493.80">5:14pm</text>
<polygon points="651.17,484.46 651.92,482.50 652.67,484.46 654.48,485.68 656.20,487.02 658.29,487.13 656.66,488.45 656.06,490.54 655.31,492.59 655.86,494.62 654.10,493.48 651.92,493.55 649.74,493.48 647.98,494.62 648.53,492.59 647.78,490.54 647.18,488.45 645.55,487.13 647.64,487.02 649.36,485.68" fill="#c09000" stroke="#5a4a18" stroke-width="0.7" stroke-linejoin="miter"/>
<text x="658.72" y="493.80">5:13pm</text>
<circle cx="159.80" cy="502.95" r="5.25" fill="#ffffc8" stroke="#6a6a6a" stroke-width="0.8"/>
<text x="166.60" y="506.40">6:51am</text>
<circle cx="240.03" cy="502.95" r="5.25" fill="#ffffc8" stroke="#6a6a6a" stroke-width="0.8"/>
<text x="246.83" y="506.40">8:01am</text>
<circle cx="320.37" cy="502.95" r="5.25" fill="#ffffc8" stroke="#6a6a6a" stroke-width="0.8"/>
<text x="327.17" y="506.40">9:13am</text>
<circle cx="400.60" cy="502.95" r="5.25" fill="#ffffc8" stroke="#6a6a6a" stroke-width="0.8"/>
<text x="407.40" y="506.40">10:23am</text>
<circle cx="480.67" cy="502.95" r="5.25" fill="#ffffc8" stroke="#6a6a6a" stroke-width="0.8"/>
<text x="487.47" y="506.40">11:30am</text>
<circle cx="560.27" cy="502.95" r="5.25" fill="#ffffc8" stroke="#6a6a6a" stroke-width="0.8"/>
<text x="567.07" y="506.40">12:28pm</text>
<circle cx="639.38" cy="502.95" r="5.25" fill="#ffffc8" stroke="#6a6a6a" stroke-width="0.8"/>
<text x="646.18" y="506.40">1:17pm</text>
<circle cx="116.55" cy="516.65" r="5.25" fill="#c8c8b4" stroke="#6a6a6a" stroke-width="0.8"/>
<text x="123.35" y="521.00">5:17pm</text>
<circle cx="194.76" cy="516.65" r="5.25" fill="#c8c8b4" stroke="#6a6a6a" stroke-width="0.8"/>
<text x="201.56" y="521.00">5:49pm</text>
<circle cx="273.29" cy="516.65" r="5.25" fill="#c8c8b4" stroke="#6a6a6a" stroke-width="0.8"/>
<text x="280.09" y="521.00">6:27pm</text>
<circle cx="352.20" cy="516.65" r="5.25" fill="#c8c8b4" stroke="#6a6a6a" stroke-width="0.8"/>
<text x="359.00" y="521.00">7:12pm</text>
<circle cx="431.58" cy="516.65" r="5.25" fill="#c8c8b4" stroke="#6a6a6a" stroke-width="0.8"/>
<text x="438.38" y="521.00">8:06pm</text>
<circle cx="511.44" cy="516.65" r="5.25" fill="#c8c8b4" stroke="#6a6a6a" stroke-width="0.8"/>
<text x="518.24" y="521.00">9:09pm</text>
<circle cx="591.61" cy="516.65" r="5.25" fill="#c8c8b4" stroke="#6a6a6a" stroke-width="0.8"/>
<text x="598.41" y="521.00">10:18pm</text>
<circle cx="671.90" cy="516.65" r="5.25" fill="#c8c8b4" stroke="#6a6a6a" stroke-width="0.8"/>
<text x="678.70" y="521.00">11:29pm</text>
<text x="120.27" y="533.3" text-anchor="end" font-size="9.3">New Moon</text>
<text x="123.57" y="534.5" font-size="9.2">| 7:48pm</text>
<text x="642.52" y="533.3" text-anchor="end" font-size="9.3">First Quarter</text>
<text x="645.82" y="534.5" font-size="9.2">| 3:37pm</text>
</g>
</svg>
</body></html>
